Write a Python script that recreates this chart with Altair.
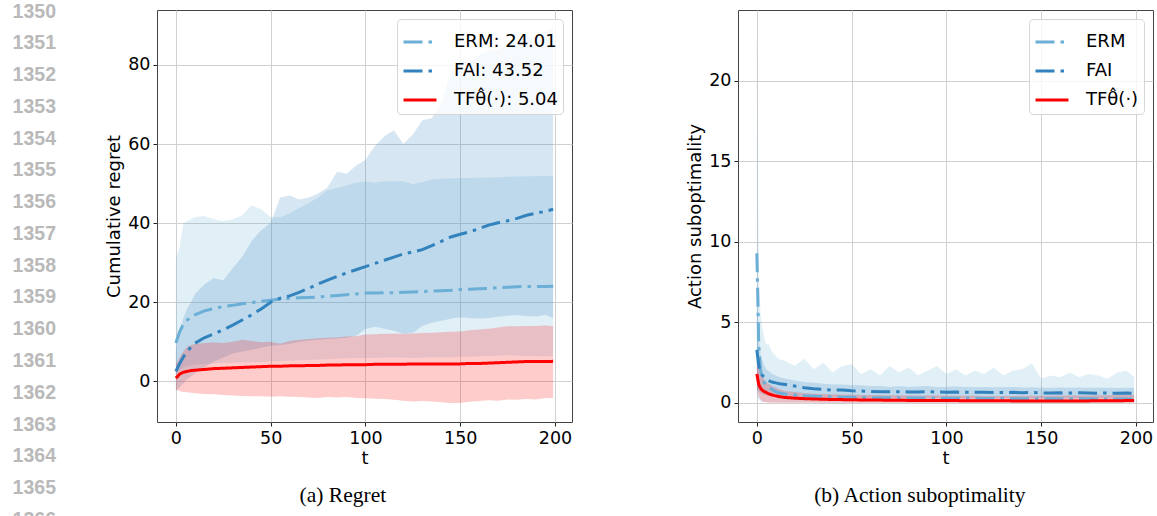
import altair as alt
import pandas as pd

# ---------------- data: left panel (cumulative regret) ----------------
T_LEFT = [0, 2, 4, 6, 8, 10,
          15, 20, 25, 30, 35, 40, 45, 50, 55, 60,
          65, 70, 75, 80, 85, 90, 95, 100, 105, 110,
          115, 120, 125, 130, 135, 140, 145, 150, 155, 160,
          165, 170, 175, 180, 185, 190, 195, 199]

ERM_MEAN_L = [9.7, 12.5, 14.5, 15.5, 16.3, 16.8,
              17.8, 18.4, 18.9, 19.2, 19.6, 19.9, 20.2, 20.5, 20.8, 21.0,
              21.1, 21.2, 21.3, 21.5, 21.7, 21.9, 22.1, 22.3, 22.3, 22.4,
              22.4, 22.5, 22.6, 22.7, 22.8, 22.9, 23.0, 23.2, 23.3, 23.4,
              23.5, 23.7, 23.8, 23.9, 24.0, 24.0, 24.0, 24.01]
ERM_LO_L = [2.0, 2.8, 3.4, 3.8, 4.0, 4.2,
            4.4, 4.5, 4.6, 4.7, 4.8, 4.8, 4.9, 5.0, 5.1, 5.2,
            5.3, 5.4, 5.5, 5.6, 5.7, 5.8, 5.9, 5.9, 5.9, 6.0,
            6.0, 6.0, 5.9, 6.0, 6.1, 6.1, 6.1, 6.2, 6.2, 6.3,
            6.4, 6.5, 6.6, 6.5, 6.4, 6.3, 6.3, 6.3]
ERM_HI_L = [31.0, 34.0, 40.0, 40.5, 41.0, 41.5,
            41.8, 41.0, 40.5, 41.0, 42.0, 44.5, 43.5, 41.5, 41.5, 42.5,
            43.8, 45.0, 46.5, 48.3, 48.8, 49.5, 50.2, 50.5, 50.3, 50.5,
            50.6, 50.6, 49.8, 50.4, 51.0, 51.2, 51.3, 51.4, 51.4, 51.5,
            51.5, 51.6, 51.7, 51.8, 51.8, 51.9, 51.9, 51.9]

FAI_MEAN_L = [2.5, 4.5, 6.2, 7.5, 8.7, 9.6,
              11.0, 12.0, 13.0, 14.2, 15.5, 16.8, 18.3, 20.0, 21.0, 21.6,
              22.5, 23.5, 24.6, 25.6, 26.5, 27.4, 28.2, 29.0, 29.8, 30.6,
              31.4, 32.2, 32.7, 33.3, 34.3, 35.4, 36.5, 37.2, 37.8, 38.6,
              39.5, 40.1, 40.6, 41.2, 42.0, 42.5, 43.0, 43.52]
FAI_LO_L = [-2.5, -1.5, -0.5, 0.5, 1.2, 2.0,
            3.5, 5.0, 6.0, 7.0, 7.5, 8.0, 8.5, 9.0, 9.2, 9.5,
            10.0, 10.3, 10.5, 10.7, 10.8, 11.0, 11.5, 13.2, 13.8, 13.3,
            12.8, 12.0, 12.3, 14.0, 14.8, 15.3, 15.8, 16.2, 16.0, 15.9,
            16.0, 16.3, 16.6, 16.7, 16.5, 16.4, 16.8, 16.0]
FAI_HI_L = [8.0, 12.6, 16.0, 18.5, 20.0, 22.0,
            24.5, 26.1, 25.5, 28.6, 31.5, 35.5, 38.2, 40.0, 46.5, 47.0,
            46.0, 46.5, 47.5, 49.0, 53.0, 52.5, 54.5, 56.0, 59.5, 62.0,
            63.5, 60.0, 62.4, 66.0, 66.5, 70.5, 78.5, 80.8, 80.8, 82.5,
            83.6, 84.0, 85.0, 86.0, 87.6, 85.5, 88.5, 89.2]

TF_MEAN_L = [0.8, 1.8, 2.3, 2.5, 2.7, 2.8,
             3.0, 3.2, 3.3, 3.4, 3.5, 3.6, 3.7, 3.8, 3.8, 3.9,
             3.9, 4.0, 4.0, 4.1, 4.1, 4.2, 4.2, 4.2, 4.3, 4.3,
             4.3, 4.3, 4.4, 4.4, 4.4, 4.4, 4.4, 4.4, 4.5, 4.5,
             4.6, 4.7, 4.8, 4.9, 5.0, 5.0, 5.0, 5.04]
TF_LO_L = [-2.0, -2.5, -2.7, -2.8, -2.9, -3.0,
           -3.2, -3.3, -3.5, -3.6, -3.7, -3.8, -3.8, -3.9, -3.8, -3.9,
           -4.0, -4.1, -4.2, -4.0, -4.1, -4.0, -4.2, -4.3, -4.4, -4.5,
           -4.7, -4.9, -5.1, -5.0, -5.1, -5.3, -5.5, -5.5, -5.2, -5.0,
           -4.8, -4.9, -4.6, -4.7, -4.5, -4.6, -4.2, -4.3]
TF_HI_L = [4.2, 6.0, 7.6, 8.8, 9.2, 9.4,
           9.7, 9.8, 9.7, 10.0, 10.5, 10.2, 9.9, 10.0, 9.5, 10.2,
           10.5, 10.7, 10.9, 11.0, 11.1, 11.3, 11.4, 11.8, 11.9, 12.0,
           12.0, 12.0, 12.1, 12.2, 12.3, 12.4, 12.5, 12.6, 12.9, 13.1,
           13.3, 13.6, 13.9, 13.9, 14.0, 14.0, 14.1, 13.9]

# ---------------- data: right panel (action suboptimality) ----------------
T_RIGHT = [0, 1, 2, 3, 4, 5, 6, 8, 10, 12,
           15, 20, 25, 30, 35, 40, 45, 50, 55,
           60, 65, 70, 75, 80, 85, 90, 95, 100, 105,
           110, 115, 120, 125, 130, 135, 140, 145, 150, 155,
           160, 165, 170, 175, 180, 185, 190, 195, 199]

ERM_MEAN_R = [9.3, 3.6, 2.0, 1.5, 1.25, 1.1, 1.0, 0.85, 0.7, 0.62,
              0.55, 0.5, 0.45, 0.42, 0.4, 0.38, 0.36, 0.35, 0.34,
              0.33, 0.33, 0.32, 0.32, 0.31, 0.31, 0.3, 0.3, 0.3, 0.29,
              0.29, 0.29, 0.28, 0.28, 0.28, 0.28, 0.27, 0.27, 0.27, 0.27,
              0.26, 0.26, 0.26, 0.26, 0.26, 0.25, 0.25, 0.25, 0.25]
ERM_LO_R = [0.4, 0.2, 0.1, 0.08, 0.06, 0.05, 0.05, 0.04, 0.04, 0.03,
            0.03, 0.03, 0.03, 0.03, 0.02, 0.02, 0.02, 0.02, 0.02,
            0.02, 0.02, 0.02, 0.02, 0.02, 0.02, 0.02, 0.02, 0.02, 0.02,
            0.02, 0.02, 0.02, 0.02, 0.02, 0.02, 0.02, 0.02, 0.02, 0.02,
            0.02, 0.02, 0.02, 0.02, 0.02, 0.02, 0.02, 0.02, 0.02]
ERM_HI_R = [23.2, 8.0, 5.4, 4.6, 4.0, 3.6, 3.7, 3.2, 2.9, 2.7,
            2.6, 2.3, 2.75, 2.1, 2.5, 1.9, 2.3, 2.4, 1.8,
            2.1, 1.7, 2.3, 1.9, 2.2, 1.7, 2.0, 2.3, 1.8, 2.1,
            1.7, 2.0, 1.8, 2.2, 1.7, 2.0, 2.1, 2.45, 1.5, 1.7,
            1.6, 1.9, 1.6, 1.8, 1.7, 1.5, 1.9, 2.0, 1.6]

FAI_MEAN_R = [3.3, 2.3, 1.9, 1.7, 1.6, 1.5, 1.4, 1.3, 1.25, 1.2,
              1.15, 1.05, 0.95, 0.88, 0.85, 0.8, 0.8, 0.76, 0.74,
              0.72, 0.7, 0.7, 0.7, 0.69, 0.68, 0.7, 0.68, 0.67, 0.68,
              0.66, 0.66, 0.67, 0.65, 0.65, 0.66, 0.64, 0.65, 0.63, 0.62,
              0.63, 0.62, 0.63, 0.62, 0.61, 0.62, 0.6, 0.62, 0.6]
FAI_LO_R = [0.8, 0.7, 0.6, 0.55, 0.5, 0.48, 0.45, 0.42, 0.4, 0.4,
            0.38, 0.36, 0.35, 0.34, 0.33, 0.33, 0.32, 0.32, 0.31,
            0.3, 0.3, 0.3, 0.3, 0.3, 0.3, 0.3, 0.3, 0.3, 0.3,
            0.3, 0.3, 0.3, 0.3, 0.3, 0.3, 0.3, 0.3, 0.3, 0.3,
            0.3, 0.3, 0.3, 0.3, 0.3, 0.3, 0.3, 0.3, 0.3]
FAI_HI_R = [6.5, 4.0, 3.0, 2.6, 2.3, 2.1, 2.0, 1.8, 1.7, 1.6,
            1.5, 1.4, 1.3, 1.25, 1.2, 1.15, 1.15, 1.1, 1.1,
            1.05, 1.05, 1.0, 1.05, 1.0, 1.02, 1.05, 1.0, 1.0, 1.02,
            1.0, 0.98, 1.0, 0.97, 0.98, 1.0, 0.96, 0.97, 0.95, 0.95,
            0.96, 0.95, 0.96, 0.94, 0.95, 0.94, 0.93, 0.95, 0.93]

TF_MEAN_R = [1.8, 1.15, 0.9, 0.78, 0.7, 0.65, 0.58, 0.5, 0.44, 0.39,
             0.34, 0.3, 0.27, 0.25, 0.23, 0.22, 0.21, 0.2, 0.19,
             0.18, 0.18, 0.17, 0.17, 0.16, 0.16, 0.15, 0.15, 0.15, 0.15,
             0.14, 0.14, 0.14, 0.14, 0.14, 0.13, 0.13, 0.13, 0.13, 0.13,
             0.13, 0.13, 0.13, 0.13, 0.14, 0.14, 0.14, 0.15, 0.15]
TF_LO_R = [1.0, 0.4, 0.2, 0.1, 0.06, 0.04, 0.03, 0.02, 0.02, 0.02,
           0.01, 0.01, 0.01, 0.01, 0.01, 0.01, 0.01, 0.01, 0.01,
           0.01, 0.01, 0.01, 0.01, 0.01, 0.01, 0.01, 0.01, 0.01, 0.01,
           0.01, 0.01, 0.01, 0.01, 0.01, 0.01, 0.01, 0.01, 0.01, 0.01,
           0.01, 0.01, 0.01, 0.01, 0.01, 0.01, 0.01, 0.01, 0.01]
TF_HI_R = [2.6, 2.2, 1.9, 1.6, 1.45, 1.3, 1.2, 1.05, 0.95, 0.85,
           0.75, 0.68, 0.62, 0.58, 0.56, 0.54, 0.53, 0.52, 0.5,
           0.5, 0.49, 0.48, 0.48, 0.47, 0.47, 0.46, 0.46, 0.45, 0.45,
           0.45, 0.45, 0.44, 0.44, 0.44, 0.44, 0.45, 0.45, 0.45, 0.45,
           0.46, 0.46, 0.47, 0.47, 0.48, 0.48, 0.49, 0.5, 0.5]

NAMES = ["ERM", "FAI", "TF\u03b8\u0302(\u00b7)"]
FINAL_REGRET = ["24.01", "43.52", "5.04"]
COLORS = ["#6baed6", "#3182bd", "#ff0000"]
LINE_NUMBERS = [1350, 1351, 1352, 1353, 1354, 1355, 1356, 1357, 1358,
                1359, 1360, 1361, 1362, 1363, 1364, 1365, 1366]


def long_table(ts, labels, means, los, his):
    rows = []
    for lab, m, lo, hi in zip(labels, means, los, his):
        for t, a, b, c in zip(ts, m, lo, hi):
            rows.append({"t": t, "series": lab, "mean": a, "lo": b, "hi": c})
    return pd.DataFrame(rows)


left_labels = [f"{n}: {v}" for n, v in zip(NAMES, FINAL_REGRET)]
left_df = long_table(T_LEFT, left_labels,
                     [ERM_MEAN_L, FAI_MEAN_L, TF_MEAN_L],
                     [ERM_LO_L, FAI_LO_L, TF_LO_L],
                     [ERM_HI_L, FAI_HI_L, TF_HI_L])
right_df = long_table(T_RIGHT, NAMES,
                      [ERM_MEAN_R, FAI_MEAN_R, TF_MEAN_R],
                      [ERM_LO_R, FAI_LO_R, TF_LO_R],
                      [ERM_HI_R, FAI_HI_R, TF_HI_R])

DASH = [19, 6, 3.5, 6]
W, H = 415, 412


def panel(df, labels, ydom, yvals, ytitle, caption, cap_dx):
    base = alt.Chart(df)
    x = alt.X("t:Q", scale=alt.Scale(domain=[-9.95, 208.95], nice=False, zero=False),
              axis=alt.Axis(values=[0, 50, 100, 150, 200], title="t", titlePadding=2.5))
    yscale = alt.Scale(domain=ydom, nice=False, zero=False)
    yaxis = alt.Axis(values=yvals, title=ytitle, titlePadding=4)
    layers = []
    for lab, col in zip(labels, COLORS):
        layers.append(
            base.transform_filter(alt.datum.series == lab)
            .mark_area(color=col, fillOpacity=0.2)
            .encode(x=x, y=alt.Y("lo:Q", scale=yscale, axis=yaxis), y2="hi:Q")
        )
    lines = base.mark_line(strokeCap="butt").encode(
        x=x,
        y=alt.Y("mean:Q", scale=yscale, axis=yaxis),
        color=alt.Color("series:N", scale=alt.Scale(domain=labels, range=COLORS),
                        legend=alt.Legend(title=None, orient="top-right", offset=9,
                                          fillColor="rgba(255,255,255,0.8)",
                                          strokeColor="#d6d6d6", cornerRadius=4,
                                          padding=5, labelFont="DejaVu Sans",
                                          labelFontSize=18, labelColor="black",
                                          symbolType="stroke", symbolSize=1089,
                                          labelOffset=16, rowPadding=2,
                                          labelLimit=300)),
        strokeDash=alt.StrokeDash("series:N",
                                  scale=alt.Scale(domain=labels, range=[DASH, DASH, [1, 0]])),
        strokeWidth=alt.StrokeWidth("series:N",
                                    scale=alt.Scale(domain=labels, range=[3, 3, 4])),
        order=alt.Order("t:Q"),
    )
    layers.append(lines)
    return alt.layer(*layers).properties(
        width=W, height=H,
        title=alt.TitleParams(caption, orient="bottom", font="Liberation Serif",
                              fontSize=21.5, fontWeight="normal", color="black",
                              anchor="middle", frame="bounds", dx=cap_dx, offset=18),
    )


left = panel(left_df, left_labels, [-10.3, 93.9], [0, 20, 40, 60, 80],
             "Cumulative regret", "(a) Regret", 4)
right = panel(right_df, NAMES, [-1.18, 24.4], [0, 5, 10, 15, 20],
              "Action suboptimality", "(b) Action suboptimality", 0)

nums_df = pd.DataFrame({"n": LINE_NUMBERS, "label": [str(n) for n in LINE_NUMBERS]})
nums = alt.Chart(nums_df).mark_text(
    align="right", baseline="middle", font="Liberation Sans", fontWeight="bold",
    fontSize=19.5, color="#b9b9b9"
).encode(
    y=alt.Y("n:Q", scale=alt.Scale(domain=[1349.95, 1362.92], reverse=True,
                                   nice=False, zero=False), axis=None),
    x=alt.value(45),
    text="label:N",
).properties(width=45, height=H, view=alt.ViewBackground(stroke="transparent"))

panels = alt.hconcat(left, right, spacing=113).resolve_scale(
    color="independent", strokeDash="independent", strokeWidth="independent"
).resolve_legend(color="independent", strokeDash="independent", strokeWidth="independent")

chart = alt.hconcat(nums, panels, spacing=48).properties(
    padding={"left": 10, "top": 1, "right": 0, "bottom": 0},
    background="white",
).configure_view(stroke="#444444", strokeWidth=1).configure_axis(
    labelFont="DejaVu Sans", labelFontSize=17.5, labelColor="black",
    titleFont="DejaVu Sans", titleFontSize=18, titleFontWeight="normal", titleColor="black",
    tickColor="#222222", tickSize=4, domain=False, gridColor="#d0d0d0", gridWidth=1,
    labelPadding=3,
)

chart.save("out.html", embed_options={"renderer": "svg", "actions": False})
